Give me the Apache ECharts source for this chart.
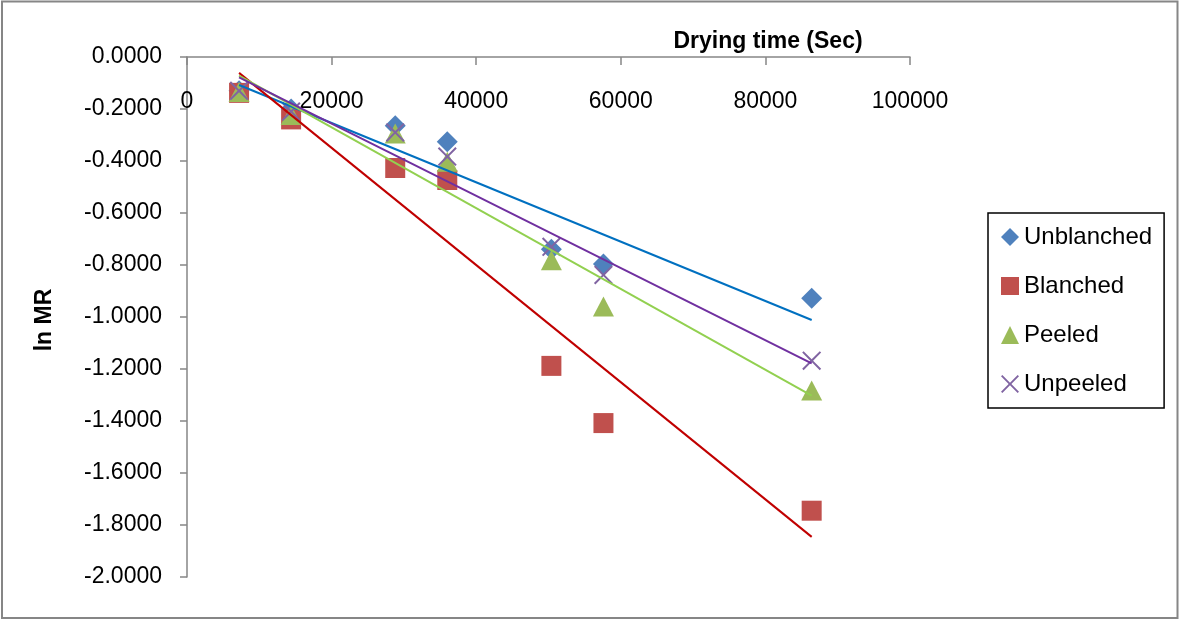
<!DOCTYPE html>
<html>
<head>
<meta charset="utf-8">
<title>ln MR vs drying time</title>
<script src="https://cdn.jsdelivr.net/npm/echarts@6/dist/echarts.min.js"></script>
<style>
  html, body { margin: 0; padding: 0; background: #ffffff; }
  #chart { width: 1180px; height: 620px; }
</style>
</head>
<body>
<div id="chart"></div>
<script>
// Drying time in seconds (2, 4, 8, 10, 14, 16 and 24 hours)
const dryingTime = [7200, 14400, 28800, 36000, 50400, 57600, 86400];

// ln MR for each sample treatment
const unblanched = [-0.130, -0.200, -0.264, -0.326, -0.739, -0.796, -0.928];
const blanched   = [-0.138, -0.240, -0.427, -0.473, -1.188, -1.408, -1.745];
const peeled     = [-0.135, -0.223, -0.294, -0.403, -0.782, -0.960, -1.283];
const unpeeled   = [-0.130, -0.210, -0.290, -0.383, -0.730, -0.838, -1.168];

const seriesNames = ['Unblanched', 'Blanched', 'Peeled', 'Unpeeled'];
const xTicks = [0, 20000, 40000, 60000, 80000, 100000];
const yTicks = [0, -0.2, -0.4, -0.6, -0.8, -1.0, -1.2, -1.4, -1.6, -1.8, -2.0];

const FONT = "'Liberation Sans', Arial, sans-serif";
const AXIS_GREY = '#868686';

// Least-squares linear trendline spanning the measured time range
function trendline(xs, ys) {
  const n = xs.length;
  const mx = xs.reduce((a, b) => a + b, 0) / n;
  const my = ys.reduce((a, b) => a + b, 0) / n;
  let sxy = 0, sxx = 0;
  for (let i = 0; i < n; i++) {
    sxy += (xs[i] - mx) * (ys[i] - my);
    sxx += (xs[i] - mx) * (xs[i] - mx);
  }
  const slope = sxy / sxx;
  const x0 = Math.min(...xs), x1 = Math.max(...xs);
  return [[x0, my + slope * (x0 - mx)], [x1, my + slope * (x1 - mx)]];
}

const pairs = ys => dryingTime.map((t, i) => [t, ys[i]]);

// Cross marker as a filled outline so it renders like a thin "x"
const crossPath = 'path://M0,1.5L1.5,0L10,8.5L18.5,0L20,1.5L11.5,10L20,18.5L18.5,20L10,11.5L1.5,20L0,18.5L8.5,10Z';

const markers = [
  { name: 'Unblanched', data: unblanched, symbol: 'diamond', size: [21, 21], color: '#4F81BD', trend: '#0070C0' },
  { name: 'Blanched',   data: blanched,   symbol: 'rect',    size: [20, 20], color: '#C0504D', trend: '#C00000' },
  { name: 'Peeled',     data: peeled,     symbol: 'triangle',size: [21, 20], color: '#9BBB59', trend: '#92D050' },
  { name: 'Unpeeled',   data: unpeeled,   symbol: crossPath, size: [19, 19], color: '#8064A2', trend: '#7030A0' }
];

const series = [];
markers.forEach(m => {
  series.push({
    name: m.name,
    type: 'scatter',
    data: pairs(m.data),
    symbol: m.symbol,
    symbolSize: m.size,
    itemStyle: { color: m.color, opacity: 1 },
    emphasis: { disabled: true },
    z: 2
  });
});
markers.forEach(m => {
  series.push({
    name: m.name + ' trend',
    type: 'line',
    data: trendline(dryingTime, m.data),
    symbol: 'none',
    silent: true,
    lineStyle: { color: m.trend, width: 2 },
    z: 3
  });
});

const chart = echarts.init(document.getElementById('chart'), null, { renderer: 'canvas' });
chart.setOption({
  backgroundColor: '#ffffff',
  animation: false,
  textStyle: { fontFamily: FONT, color: '#000' },
  grid: { left: 187, right: 270, top: 57, bottom: 43, containLabel: false },
  xAxis: {
    type: 'value',
    position: 'top',
    min: xTicks[0],
    max: xTicks[xTicks.length - 1],
    interval: xTicks[1] - xTicks[0],
    axisLine: { show: true, onZero: false, lineStyle: { color: AXIS_GREY, width: 1.5 } },
    axisTick: { show: true, inside: true, length: 8, lineStyle: { color: AXIS_GREY, width: 1.5 } },
    axisLabel: {
      inside: true, margin: 33, fontSize: 23, fontFamily: FONT, color: '#000',
      showMinLabel: true, showMaxLabel: true,
      formatter: v => String(v)
    },
    splitLine: { show: false }
  },
  yAxis: {
    type: 'value',
    min: yTicks[yTicks.length - 1],
    max: yTicks[0],
    interval: 0.2,
    axisLine: { show: true, onZero: false, lineStyle: { color: AXIS_GREY, width: 1.5 } },
    axisTick: { show: true, inside: false, length: 7, lineStyle: { color: AXIS_GREY, width: 1.5 } },
    axisLabel: {
      margin: 25, fontSize: 23, fontFamily: FONT, color: '#000',
      formatter: v => v.toFixed(4)
    },
    splitLine: { show: false }
  },
  legend: {
    data: seriesNames,
    orient: 'vertical',
    left: 988,
    top: 213,
    padding: [11, 12, 11, 13],
    itemWidth: 18,
    itemHeight: 18,
    itemGap: 23,
    borderColor: '#000',
    borderWidth: 1.5,
    selectedMode: false,
    textStyle: { fontSize: 24, fontFamily: FONT, color: '#000', lineHeight: 26, padding: [0, 0, 0, 0] }
  },
  graphic: [
    {
      type: 'rect',
      silent: true,
      shape: { x: 2, y: 1.5, width: 1175.5, height: 616.5 },
      style: { fill: 'none', stroke: AXIS_GREY, lineWidth: 2 }
    },
    {
      type: 'text',
      x: 768, y: 42,
      silent: true,
      style: {
        text: 'Drying time (Sec)',
        font: 'bold 23px ' + FONT,
        fill: '#000',
        textAlign: 'center',
        textVerticalAlign: 'middle'
      }
    },
    {
      type: 'text',
      x: 45, y: 320,
      rotation: Math.PI / 2,
      silent: true,
      style: {
        text: 'ln MR',
        font: 'bold 23px ' + FONT,
        fill: '#000',
        textAlign: 'center',
        textVerticalAlign: 'middle'
      }
    }
  ],
  series: series
});
</script>
</body>
</html>
